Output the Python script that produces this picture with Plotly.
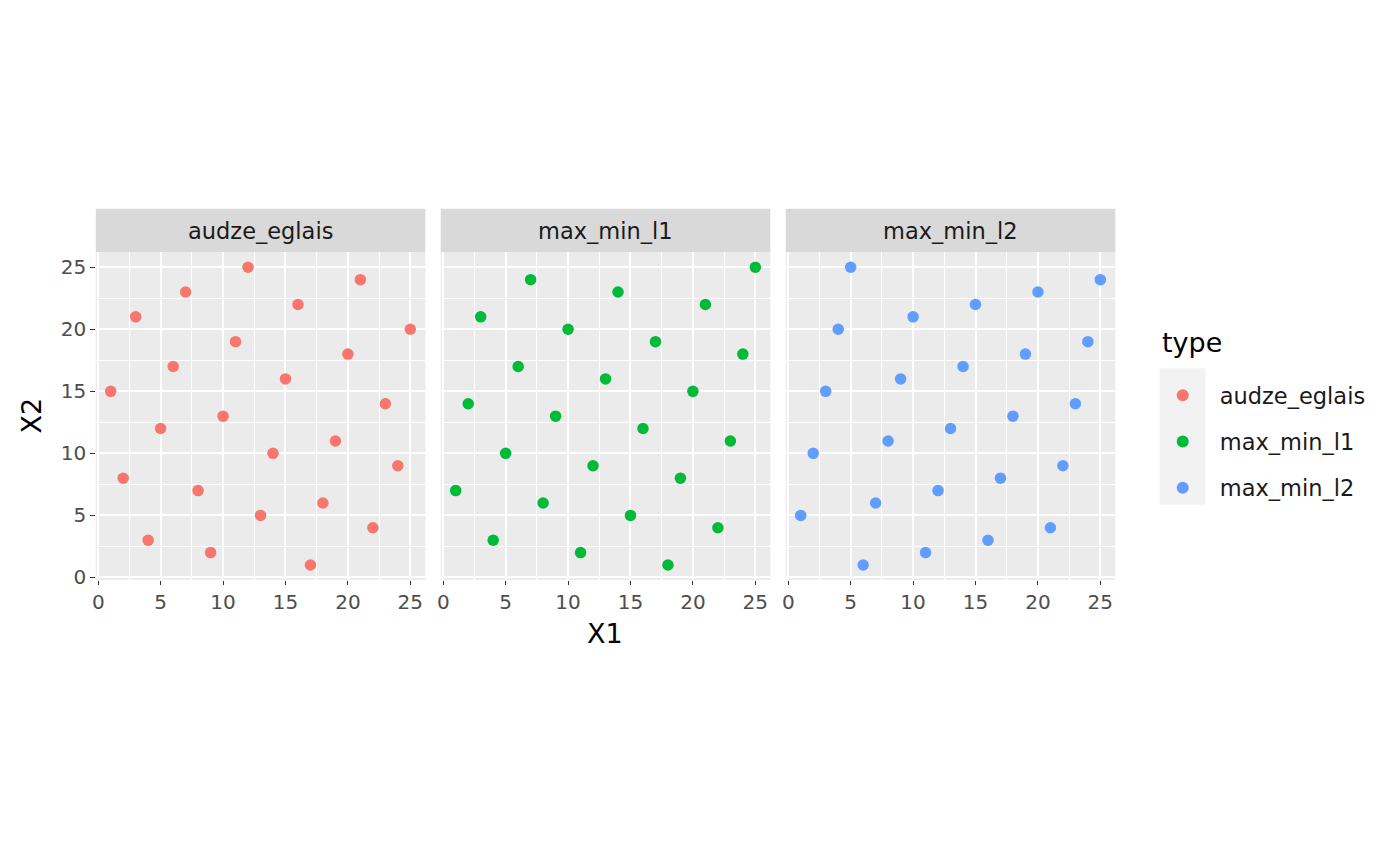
import plotly.graph_objects as go

W, H = 1400, 866

types = ["audze_eglais", "max_min_l1", "max_min_l2"]
colors = ["#F8766D", "#00BA38", "#619CFF"]

x1_vals = list(range(1, 26))
x2_audze = [15, 8, 21, 3, 12, 17, 23, 7, 2, 13, 19, 25, 5, 10, 16, 22, 1, 6, 11, 18, 24, 4, 14, 9, 20]
x2_l1 = [7, 14, 21, 3, 10, 17, 24, 6, 13, 20, 2, 9, 16, 23, 5, 12, 19, 1, 8, 15, 22, 4, 11, 18, 25]
x2_l2 = [5, 10, 15, 20, 25, 1, 6, 11, 16, 21, 2, 7, 12, 17, 22, 3, 8, 13, 18, 23, 4, 9, 14, 19, 24]
series = [x2_audze, x2_l1, x2_l2]

major_ticks = [0, 5, 10, 15, 20, 25]
minor_ticks = [2.5, 7.5, 12.5, 17.5, 22.5]

def px_x(p):
    return p / W

def px_y(p):
    return 1 - p / H

panels = [(92, 422.5), (438, 768.5), (784, 1114.5)]
top, bottom = 255, 586
strip_top = 211

TICK_FS = 20
STRIP_FS = 22.5
TITLE_FS = 27

fig = go.Figure()

for i, (t, c, ys) in enumerate(zip(types, colors, series)):
    sfx = "" if i == 0 else str(i + 1)
    fig.add_trace(go.Scatter(
        x=x1_vals, y=ys, mode="markers", name=t,
        marker=dict(color=c, size=11.5, line=dict(width=0)),
        xaxis="x" + sfx, yaxis="y" + sfx,
        legendgroup=t, showlegend=True,
    ))

layout = dict(
    width=W, height=H,
    margin=dict(l=0, r=0, t=0, b=0),
    paper_bgcolor="white", plot_bgcolor="#EBEBEB",
    font=dict(family="DejaVu Sans", color="#4D4D4D"),
    showlegend=True,
    legend=dict(
        x=px_x(1145), y=px_y(378), xanchor="left", yanchor="top",
        font=dict(size=STRIP_FS, color="#1A1A1A"),
        bgcolor="rgba(0,0,0,0)",
        tracegroupgap=14, itemsizing="constant", itemwidth=64,
        traceorder="grouped",
    ),
)

shapes = []
annotations = []
for i, (l, r) in enumerate(panels):
    sfx = "" if i == 0 else str(i + 1)
    axx = dict(
        domain=[px_x(l), px_x(r)], range=[-0.2, 26.2],
        anchor="y" + sfx,
        tickmode="array", tickvals=major_ticks,
        showgrid=True, gridcolor="white", gridwidth=1.6,
        minor=dict(tickmode="array", tickvals=minor_ticks, showgrid=True, gridcolor="white", gridwidth=0.8, ticks=""),
        ticks="outside", ticklen=4.5, tickwidth=1.2, tickcolor="#333333",
        tickfont=dict(size=TICK_FS, color="#4D4D4D"),
        zeroline=False, showline=False, fixedrange=True,
    )
    axy = dict(
        domain=[px_y(bottom), px_y(top)], range=[-0.2, 26.2],
        anchor="x" + sfx,
        tickmode="array", tickvals=major_ticks,
        showgrid=True, gridcolor="white", gridwidth=1.6,
        minor=dict(tickmode="array", tickvals=minor_ticks, showgrid=True, gridcolor="white", gridwidth=0.8, ticks=""),
        zeroline=False, showline=False, fixedrange=True,
    )
    if i == 0:
        axy.update(ticks="outside", ticklen=4.5, tickwidth=1.2, tickcolor="#333333",
                   tickfont=dict(size=TICK_FS, color="#4D4D4D"), showticklabels=True)
    else:
        axy.update(ticks="", showticklabels=False)
    layout["xaxis" + sfx] = axx
    layout["yaxis" + sfx] = axy
    shapes.append(dict(type="rect", xref="paper", yref="paper",
                       x0=px_x(l), x1=px_x(r), y0=px_y(top), y1=px_y(strip_top),
                       fillcolor="#D9D9D9", line=dict(width=0), layer="below"))
    annotations.append(dict(text=types[i], xref="paper", yref="paper",
                            x=px_x((l + r) / 2), y=px_y((top + strip_top) / 2),
                            xanchor="center", yanchor="middle", showarrow=False,
                            font=dict(size=STRIP_FS, color="#1A1A1A")))

# legend key background
shapes.append(dict(type="rect", xref="paper", yref="paper",
                   x0=px_x(1159), x1=px_x(1205), y0=px_y(510), y1=px_y(372),
                   fillcolor="#F2F2F2", line=dict(width=0), layer="below"))

annotations.append(dict(text="type", xref="paper", yref="paper",
                        x=px_x(1159), y=px_y(346), xanchor="left", yanchor="middle",
                        showarrow=False, font=dict(size=TITLE_FS, color="black")))
annotations.append(dict(text="X1", xref="paper", yref="paper",
                        x=px_x(603), y=px_y(640), xanchor="center", yanchor="middle",
                        showarrow=False, font=dict(size=TITLE_FS, color="black")))
annotations.append(dict(text="X2", xref="paper", yref="paper",
                        x=px_x(28), y=px_y(420), xanchor="center", yanchor="middle",
                        textangle=-90, showarrow=False, font=dict(size=TITLE_FS, color="black")))

layout["shapes"] = shapes
layout["annotations"] = annotations
fig.update_layout(**layout)

fig.write_html("out.html")
